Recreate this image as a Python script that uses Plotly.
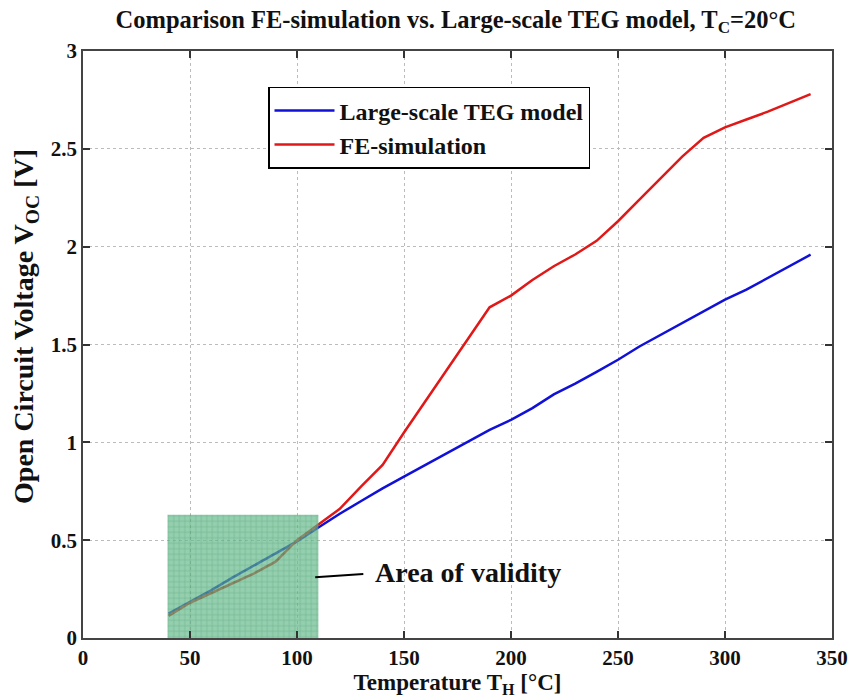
import plotly.graph_objects as go

# ---- data ----
temperature_th = [40, 50, 60, 70, 80, 90, 100, 110, 120, 130, 140, 150, 160, 170, 180,
                  190, 200, 210, 220, 230, 240, 250, 260, 270, 280, 290, 300, 310, 320, 330, 340]
voc_teg_model = [0.125, 0.185, 0.245, 0.31, 0.37, 0.43, 0.494, 0.565, 0.635, 0.70, 0.765,
                 0.825, 0.885, 0.945, 1.005, 1.064, 1.115, 1.175, 1.245, 1.30, 1.36, 1.422,
                 1.49, 1.55, 1.61, 1.67, 1.729, 1.78, 1.84, 1.90, 1.959]
voc_fe_sim = [0.113, 0.18, 0.23, 0.28, 0.33, 0.39, 0.50, 0.58, 0.66, 0.775, 0.885,
              1.05, 1.21, 1.37, 1.53, 1.69, 1.75, 1.83, 1.90, 1.96, 2.03, 2.13, 2.24,
              2.35, 2.46, 2.556, 2.61, 2.65, 2.69, 2.735, 2.78]

validity_x = [39.5, 110, 110, 39.5, 39.5]
validity_y = [0, 0, 0.63, 0.63, 0]

x_ticks = [0, 50, 100, 150, 200, 250, 300, 350]
y_ticks = [0, 0.5, 1, 1.5, 2, 2.5, 3]
y_tick_labels = ["0", "0.5", "1", "1.5", "2", "2.5", "3"]

FONT = "Liberation Serif"
TXT = "#111"

fig = go.Figure()
fig.add_trace(go.Scatter(x=temperature_th, y=voc_teg_model, mode="lines",
                         name="<b>Large-scale TEG model</b>",
                         line=dict(color="#1010d8", width=2.5)))
fig.add_trace(go.Scatter(x=temperature_th, y=voc_fe_sim, mode="lines",
                         name="<b>FE-simulation</b>",
                         line=dict(color="#e01818", width=2.5)))
fig.add_trace(go.Scatter(x=validity_x, y=validity_y, mode="lines", fill="toself",
                         line=dict(width=0, color="rgba(0,0,0,0)"),
                         fillcolor="#66ba8b", opacity=0.7,
                         fillpattern=dict(shape="+", size=5.5, solidity=0.2,
                                          fgcolor="#006e37", bgcolor="#66ba8b"),
                         showlegend=False, hoverinfo="skip"))

# annotation: leader line + label
fig.add_shape(type="line", x0=108.5, y0=0.31, x1=131, y1=0.327, xref="x", yref="y",
              line=dict(color="black", width=2))
fig.add_annotation(x=135.5, y=0.333, xref="x", yref="y", text="<b>Area of validity</b>",
                   showarrow=False, xanchor="left", yanchor="middle",
                   font=dict(family=FONT, size=28, color=TXT))

# y-axis title as rotated annotation (positioned like the reference)
fig.add_annotation(x=-0.076, y=0.53, xref="paper", yref="paper",
                   text="<b>Open Circuit Voltage V<sub>OC</sub> [V]</b>",
                   textangle=-90, showarrow=False, xanchor="center", yanchor="middle",
                   font=dict(family=FONT, size=28, color=TXT))

axis_common = dict(showline=True, linecolor="#444", linewidth=1.5, mirror="ticks",
                   ticks="inside", ticklen=7, tickwidth=1.5, tickcolor="#333",
                   showgrid=True, gridcolor="#bcbcbc", griddash="dot", gridwidth=1,
                   zeroline=False, automargin=False,
                   tickfont=dict(family=FONT, size=21, color=TXT))

fig.update_xaxes(range=[0, 350], tickvals=x_ticks,
                 ticktext=[f"<b>{t}</b>" for t in x_ticks],
                 title=dict(text="<b>Temperature T<sub>H</sub> [°C]</b>",
                            font=dict(family=FONT, size=23, color=TXT), standoff=4),
                 **axis_common)
fig.update_yaxes(range=[0, 3], tickvals=y_ticks,
                 ticktext=[f"<b>{t}</b>" for t in y_tick_labels],
                 **axis_common)

fig.update_layout(
    width=852, height=700,
    margin=dict(l=83, r=20, t=51, b=62),
    paper_bgcolor="white", plot_bgcolor="white",
    title=dict(text="<b>Comparison FE-simulation vs. Large-scale TEG model, T<sub>C</sub>=20°C</b>",
               font=dict(family=FONT, size=24.5, color=TXT),
               x=0.535, xanchor="center", y=0.972, yanchor="middle"),
    legend=dict(x=0.247, y=0.939, xanchor="left", yanchor="top",
                bgcolor="white", bordercolor="black", borderwidth=1.5,
                font=dict(family=FONT, size=24, color=TXT),
                tracegroupgap=0, itemwidth=60),
    showlegend=True,
)

fig.write_html("out.html")
